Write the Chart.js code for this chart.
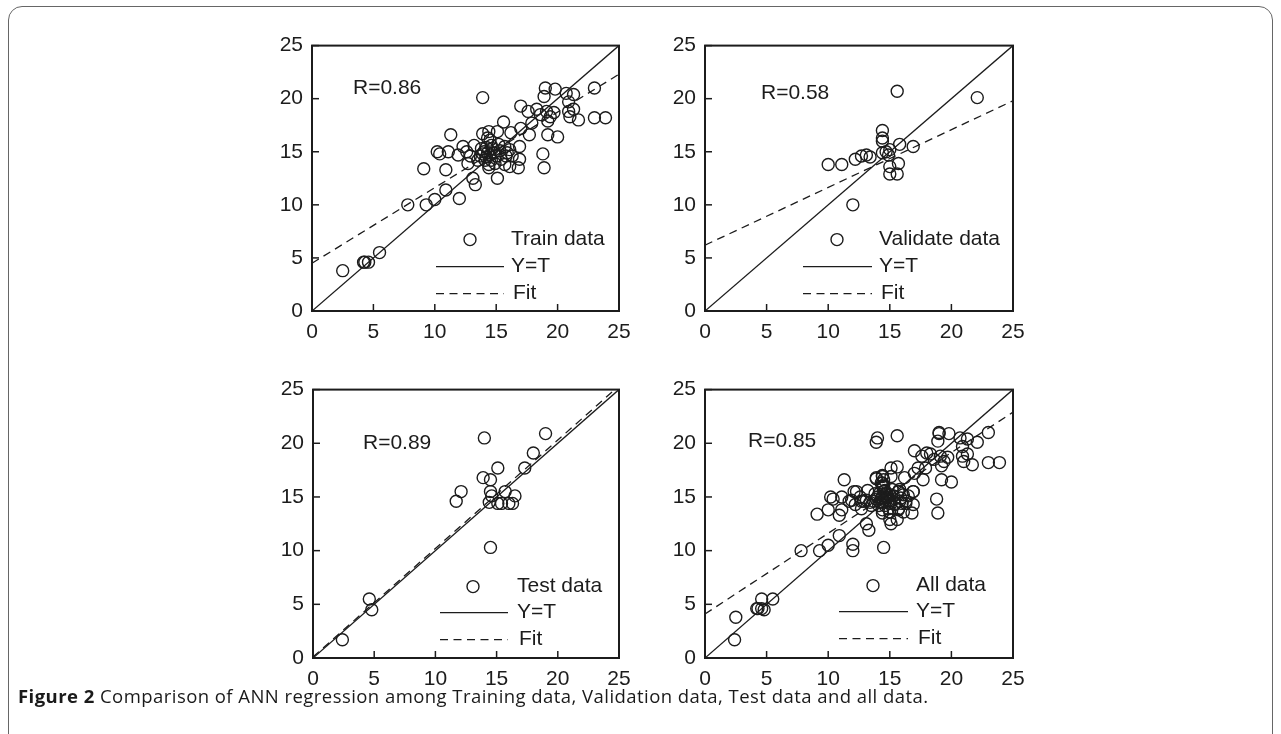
<!DOCTYPE html>
<html><head><meta charset="utf-8">
<script src="https://cdn.jsdelivr.net/npm/chart.js@4.4.1/dist/chart.umd.min.js"></script>
<style>
html,body{margin:0;padding:0;background:#fff;width:1281px;height:734px;overflow:hidden;position:relative;}
#frame{position:absolute;left:8px;top:6px;width:1265px;height:800px;border:1.5px solid #666;border-radius:14px;box-sizing:border-box;}
canvas.p{position:absolute;}
#cap{position:absolute;left:18px;top:685px;font-family:"Open Sans",sans-serif;font-size:18.5px;letter-spacing:0.45px;line-height:22px;color:#1a1a1a;white-space:nowrap;}
#cap b{font-weight:700;}
</style></head><body>
<div id="frame"></div>
<canvas id="c1" class="p" width="397" height="327" style="left:252px;top:24px"></canvas>
<canvas id="c2" class="p" width="398" height="327" style="left:645px;top:24px"></canvas>
<canvas id="c3" class="p" width="396" height="330" style="left:253px;top:368px"></canvas>
<canvas id="c4" class="p" width="398" height="330" style="left:645px;top:368px"></canvas>
<div id="cap"><b>Figure 2</b> Comparison of ANN regression among Training data, Validation data, Test data and all data.</div>
<script>
// ---- data ----
const tickValues = [0, 5, 10, 15, 20, 25];

const trainX = [2.5,4.2,4.3,4.6,5.5,7.8,9.3,10.0,10.9,12.0,9.1,10.9,13.1,13.3,10.2,10.4,11.1,11.3,11.9,12.3,
  12.9,13.2,13.9,13.9,14.4,14.5,14.2,13.9,14.2,14.6,14.4,13.7,15.1,15.1,15.6,15.3,15.7,15.8,16.1,16.2,
  16.9,16.9,16.8,16.1,17.0,17.7,17.0,17.6,18.3,18.6,19.1,19.4,19.0,19.8,18.9,18.8,18.9,19.2,20.0,19.2,
  20.7,21.3,20.9,23.0,19.7,20.9,21.0,21.3,21.7,23.0,23.9,17.9,14.0,14.3,14.5,14.8,14.1,14.4,14.7,15.0,
  13.8,14.6,15.4,15.7,15.9,16.3,13.5,12.7,12.6,14.9,15.2,14.3];
const trainY = [3.8,4.6,4.6,4.6,5.5,10.0,10.0,10.5,11.4,10.6,13.4,13.3,12.5,11.9,15.0,14.8,15.0,16.6,14.7,15.5,
  14.6,15.6,20.1,16.7,16.9,16.1,15.4,14.8,14.5,14.2,13.5,14.6,12.5,16.9,17.8,15.1,15.5,14.6,15.2,16.8,
  15.5,14.3,13.5,13.6,17.2,16.6,19.3,18.8,19.0,18.5,18.8,18.3,21.0,20.9,20.2,14.8,13.5,16.6,16.4,17.9,
  20.5,20.4,19.7,21.0,18.7,18.8,18.3,19.0,18.0,18.2,18.2,17.7,15.0,14.9,14.7,14.9,14.2,13.8,15.3,14.6,
  15.3,15.6,14.3,13.8,14.9,14.6,14.2,13.9,15.0,13.9,15.7,16.3];

const validX = [10.0,11.1,12.2,12.7,13.1,13.4,12.0,14.4,14.4,14.4,14.4,14.7,15.0,15.0,15.0,15.7,15.6,15.6,15.8,16.9,22.1,14.9];
const validY = [13.8,13.8,14.3,14.6,14.7,14.5,10.0,17.0,16.3,16.0,14.9,15.0,15.2,13.6,12.9,13.9,12.9,20.7,15.7,15.5,20.1,14.7];

const testX = [2.4,4.6,4.8,11.7,12.1,14.0,13.9,14.5,14.5,14.6,14.4,15.1,15.4,16.0,16.3,15.7,16.5,15.1,14.5,17.3,18.0,19.0];
const testY = [1.7,5.5,4.5,14.6,15.5,20.5,16.8,16.6,15.5,15.1,14.5,14.4,14.4,14.4,14.4,15.5,15.1,17.7,10.3,17.7,19.1,20.9];

const allX = trainX.concat(validX, testX);
const allY = trainY.concat(validY, testY);

// fitted line: y at x=0 and at x=25
const fitTrain = [4.5, 22.3];
const fitValid = [6.2, 19.8];
const fitTest  = [0.1, 25.35];
const fitAll   = [4.1, 22.9];

const rLabels = ['R=0.86', 'R=0.58', 'R=0.89', 'R=0.85'];
const dataLabels = ['Train data', 'Validate data', 'Test data', 'All data'];
const lineLabels = ['Y=T', 'Fit'];

// ---- drawing ----
const INK = '#1c1c1c';
const FONT = '"Liberation Sans", Arial, sans-serif';
Chart.defaults.font.family = FONT;

const decor = {
  id: 'decor',
  afterDatasetsDraw(chart, args, o) {
    const {ctx, chartArea: a, scales: {x, y}} = chart;
    ctx.save();
    ctx.strokeStyle = INK; ctx.fillStyle = INK;
    ctx.lineWidth = 2;
    ctx.strokeRect(a.left, a.top, a.right - a.left, a.bottom - a.top);
    ctx.lineWidth = 1.5;
    tickValues.forEach(v => {
      const px = x.getPixelForValue(v);
      ctx.beginPath(); ctx.moveTo(px, a.bottom); ctx.lineTo(px, a.bottom - 7); ctx.stroke();
      const py = y.getPixelForValue(v);
      ctx.beginPath(); ctx.moveTo(a.left, py); ctx.lineTo(a.left + 7, py); ctx.stroke();
    });
    ctx.font = '21px ' + FONT;
    ctx.textBaseline = 'middle'; ctx.textAlign = 'left';
    ctx.fillText(o.r, a.left + o.rx, a.top + o.ry);
    // legend
    const L = o.lg;
    ctx.lineWidth = 1.4;
    ctx.beginPath(); ctx.arc(a.left + L.mx, a.top + L.rows[0], 6, 0, Math.PI * 2); ctx.stroke();
    ctx.fillText(o.label, a.left + L.tx, a.top + L.rows[0]);
    ctx.lineWidth = 1.3;
    ctx.beginPath(); ctx.moveTo(a.left + L.l0, a.top + L.rows[1]); ctx.lineTo(a.left + L.l1, a.top + L.rows[1]); ctx.stroke();
    ctx.fillText(lineLabels[0], a.left + L.tx, a.top + L.rows[1]);
    ctx.setLineDash([8, 5.5]);
    ctx.beginPath(); ctx.moveTo(a.left + L.l0, a.top + L.rows[2]); ctx.lineTo(a.left + L.l1, a.top + L.rows[2]); ctx.stroke();
    ctx.setLineDash([]);
    ctx.fillText(lineLabels[1], a.left + L.tx + 2, a.top + L.rows[2]);
    ctx.restore();
  }
};

function axis(pos, fitFn, pad) {
  return {
    type: 'linear', position: pos, min: 0, max: 25,
    afterBuildTicks: s => { s.ticks = tickValues.map(v => ({value: v})); },
    ticks: {font: {family: FONT, size: 21}, color: INK, padding: pad, maxRotation: 0, autoSkip: false},
    grid: {display: false, drawTicks: false},
    border: {display: false},
    afterFit: fitFn
  };
}

function makePanel(id, xs, ys, fit, idx, deco) {
  const pts = xs.map((v, i) => ({x: v, y: ys[i]}));
  new Chart(document.getElementById(id), {
    type: 'scatter',
    data: {datasets: [
      {data: pts, pointStyle: 'circle', pointRadius: 6, pointHoverRadius: 6, pointBorderWidth: 1.4,
       borderColor: INK, backgroundColor: 'rgba(0,0,0,0)'},
      {type: 'line', data: [{x: tickValues[0], y: tickValues[0]}, {x: tickValues[5], y: tickValues[5]}],
       borderColor: INK, borderWidth: 1.3, pointRadius: 0, fill: false},
      {type: 'line', data: [{x: tickValues[0], y: fit[0]}, {x: tickValues[5], y: fit[1]}],
       borderColor: INK, borderWidth: 1.3, borderDash: [8, 5.5], pointRadius: 0, fill: false}
    ]},
    options: {
      responsive: false, animation: false, events: [],
      layout: {padding: {top: 20, right: 30, left: 0, bottom: 0}},
      plugins: {legend: {display: false}, tooltip: {enabled: false},
        decor: Object.assign({r: rLabels[idx], label: dataLabels[idx]}, deco)},
      scales: {
        x: axis('bottom', s => { s.height = 40; }, 9),
        y: axis('left', s => { s.width = 60; }, 9)
      }
    },
    plugins: [decor]
  });
}

makePanel('c1', trainX, trainY, fitTrain, 0, {rx: 41, ry: 43, lg: {mx: 158, tx: 199, l0: 124, l1: 192, rows: [194, 221, 248]}});
makePanel('c2', validX, validY, fitValid, 1, {rx: 56, ry: 48, lg: {mx: 132, tx: 174, l0: 98, l1: 167, rows: [194, 221, 248]}});
makePanel('c3', testX, testY, fitTest, 2, {rx: 50, ry: 54, lg: {mx: 160, tx: 204, l0: 127, l1: 195, rows: [197, 223, 250]}});
makePanel('c4', allX, allY, fitAll, 3, {rx: 43, ry: 52, lg: {mx: 168, tx: 211, l0: 134, l1: 203, rows: [196, 222, 249]}});
</script>
</body></html>
